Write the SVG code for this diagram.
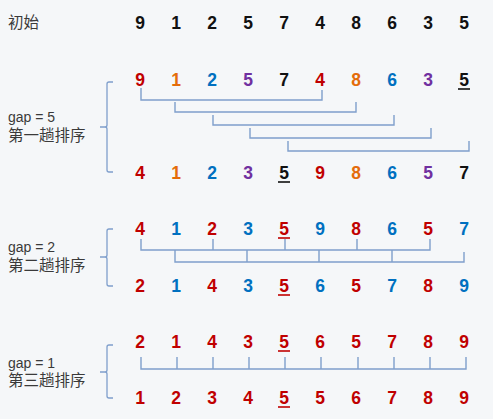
<svg xmlns="http://www.w3.org/2000/svg" width="493" height="419" viewBox="0 0 493 419">
<style>
.lbl{font-family:"Liberation Sans","Noto Sans CJK SC",sans-serif;font-size:15.5px;fill:#3a3a3a}
.g{font-size:14px}
.d{font-family:"Liberation Sans",Arial,sans-serif;font-size:17.5px;font-weight:bold;text-anchor:middle}
.k{fill:#111}.r{fill:#c00000}.o{fill:#e46c0a}.b{fill:#0070c0}.p{fill:#7030a0}
.ln{fill:none;stroke:#7f9fcc;stroke-width:1.4}
.br{fill:none;stroke:#7f9fcc;stroke-width:1.3}
.u{stroke-width:1.6}
</style>
<rect width="493" height="419" fill="#f5f7f9"/>
<g id="labels">
<text class="lbl" x="8" y="28">初始</text>
<text class="lbl g" x="8" y="122">gap = 5</text>
<text class="lbl" x="8" y="141">第一趟排序</text>
<text class="lbl g" x="8" y="252">gap = 2</text>
<text class="lbl" x="8" y="271">第二趟排序</text>
<text class="lbl g" x="8" y="368">gap = 1</text>
<text class="lbl" x="8" y="386">第三趟排序</text>
</g>
<g id="braces">
<path class="br" d="M113,82 H109 Q107,82 107,84 V125 Q107,127 105,127 H100 M105,127 Q107,127 107,129 V170 Q107,172 109,172 H113"/>
<path class="br" d="M113,229 H109 Q107,229 107,231 V255 Q107,257 105,257 H100 M105,257 Q107,257 107,259 V284 Q107,286 109,286 H113"/>
<path class="br" d="M113,345 H109 Q107,345 107,347 V370 Q107,372 105,372 H100 M105,372 Q107,372 107,374 V396 Q107,398 109,398 H113"/>
</g>
<g id="row0">
<text class="d k" x="140" y="29">9</text><text class="d k" x="176" y="29">1</text><text class="d k" x="212" y="29">2</text><text class="d k" x="248" y="29">5</text><text class="d k" x="284" y="29">7</text><text class="d k" x="320" y="29">4</text><text class="d k" x="356" y="29">8</text><text class="d k" x="392" y="29">6</text><text class="d k" x="428" y="29">3</text><text class="d k" x="464" y="29">5</text>
</g>
<g id="row1">
<text class="d r" x="140" y="86">9</text><text class="d o" x="176" y="86">1</text><text class="d b" x="212" y="86">2</text><text class="d p" x="248" y="86">5</text><text class="d k" x="284" y="86">7</text><text class="d r" x="320" y="86">4</text><text class="d o" x="356" y="86">8</text><text class="d b" x="392" y="86">6</text><text class="d p" x="428" y="86">3</text><text class="d k" x="464" y="86">5</text>
<line class="u" x1="458" y1="89" x2="470" y2="89" stroke="#111"/>
</g>
<g id="row2">
<text class="d r" x="140" y="179">4</text><text class="d o" x="176" y="179">1</text><text class="d b" x="212" y="179">2</text><text class="d p" x="248" y="179">3</text><text class="d k" x="284" y="179">5</text><text class="d r" x="320" y="179">9</text><text class="d o" x="356" y="179">8</text><text class="d b" x="392" y="179">6</text><text class="d p" x="428" y="179">5</text><text class="d k" x="464" y="179">7</text>
<line class="u" x1="278" y1="182" x2="290" y2="182" stroke="#111"/>
</g>
<g id="row3">
<text class="d r" x="140" y="235">4</text><text class="d b" x="176" y="235">1</text><text class="d r" x="212" y="235">2</text><text class="d b" x="248" y="235">3</text><text class="d r" x="284" y="235">5</text><text class="d b" x="320" y="235">9</text><text class="d r" x="356" y="235">8</text><text class="d b" x="392" y="235">6</text><text class="d r" x="428" y="235">5</text><text class="d b" x="464" y="235">7</text>
<line class="u" x1="278" y1="238" x2="290" y2="238" stroke="#c00000"/>
</g>
<g id="row4">
<text class="d r" x="140" y="292">2</text><text class="d b" x="176" y="292">1</text><text class="d r" x="212" y="292">4</text><text class="d b" x="248" y="292">3</text><text class="d r" x="284" y="292">5</text><text class="d b" x="320" y="292">6</text><text class="d r" x="356" y="292">5</text><text class="d b" x="392" y="292">7</text><text class="d r" x="428" y="292">8</text><text class="d b" x="464" y="292">9</text>
<line class="u" x1="278" y1="295" x2="290" y2="295" stroke="#c00000"/>
</g>
<g id="row5">
<text class="d r" x="140" y="348">2</text><text class="d r" x="176" y="348">1</text><text class="d r" x="212" y="348">4</text><text class="d r" x="248" y="348">3</text><text class="d r" x="284" y="348">5</text><text class="d r" x="320" y="348">6</text><text class="d r" x="356" y="348">5</text><text class="d r" x="392" y="348">7</text><text class="d r" x="428" y="348">8</text><text class="d r" x="464" y="348">9</text>
<line class="u" x1="278" y1="351" x2="290" y2="351" stroke="#c00000"/>
</g>
<g id="row6">
<text class="d r" x="140" y="404">1</text><text class="d r" x="176" y="404">2</text><text class="d r" x="212" y="404">3</text><text class="d r" x="248" y="404">4</text><text class="d r" x="284" y="404">5</text><text class="d r" x="320" y="404">5</text><text class="d r" x="356" y="404">6</text><text class="d r" x="392" y="404">7</text><text class="d r" x="428" y="404">8</text><text class="d r" x="464" y="404">9</text>
<line class="u" x1="278" y1="407" x2="290" y2="407" stroke="#c00000"/>
</g>
<g id="connectors">
<path class="ln" d="M141,88 V100 H322 V90"/>
<path class="ln" d="M175,102 V112 H356 V102"/>
<path class="ln" d="M213,115 V125 H394 V115"/>
<path class="ln" d="M250,128 V138 H431 V128"/>
<path class="ln" d="M288,141 V151 H469 V141"/>
<path class="ln" d="M141,239 V250 H430 V239 M213,239 V250 M285,239 V250 M357,239 V250"/>
<path class="ln" d="M175,250 V262 H464 V252 M247,250 V262 M319,250 V262 M392,250 V262"/>
<path class="ln" d="M141,357 V369 H466 V357 M177,357 V369 M213,357 V369 M249,357 V369 M285,357 V369 M321,357 V369 M358,357 V369 M394,357 V369 M430,357 V369"/>
</g>
</svg>
